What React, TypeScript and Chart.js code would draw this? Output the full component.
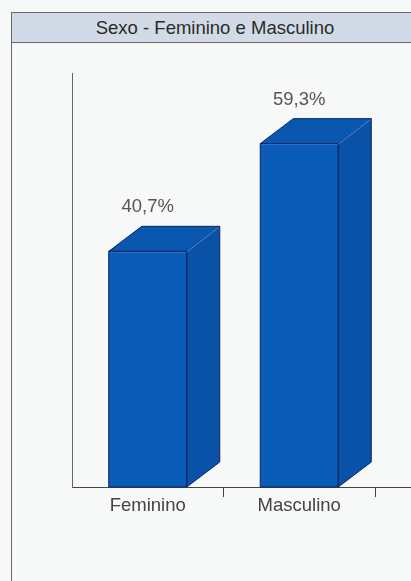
import React, { useEffect, useRef } from "react";
import { Chart, registerables } from "chart.js";

Chart.register(...registerables);

const title = "Sexo - Feminino e Masculino";
const categories = ["Feminino", "Masculino"];
const values = [40.7, 59.3];
const valueLabels = ["40,7%", "59,3%"];
const yMax = 71.5;

const FONT = "'Liberation Sans', Arial, sans-serif";

const threeD = {
  id: "threeD",
  afterDatasetsDraw(chart: any) {
    const ctx = chart.ctx;
    const meta = chart.getDatasetMeta(0);
    const dx = 33;
    const dy = 25;
    meta.data.forEach((bar: any, i: number) => {
      const { x, y, base, width } = bar.getProps(["x", "y", "base", "width"], true);
      const l = x - width / 2;
      const r = x + width / 2;
      ctx.save();
      ctx.lineJoin = "round";
      ctx.strokeStyle = "#0a2466";
      ctx.lineWidth = 1;
      // side
      ctx.beginPath();
      ctx.moveTo(r, y);
      ctx.lineTo(r + dx, y - dy);
      ctx.lineTo(r + dx, base - dy);
      ctx.lineTo(r, base);
      ctx.closePath();
      ctx.fillStyle = "#0a52a8";
      ctx.fill();
      ctx.stroke();
      // top
      ctx.beginPath();
      ctx.moveTo(l, y);
      ctx.lineTo(l + dx, y - dy);
      ctx.lineTo(r + dx, y - dy);
      ctx.lineTo(r, y);
      ctx.closePath();
      ctx.fillStyle = "#0a57b0";
      ctx.fill();
      ctx.stroke();
      // highlight edges
      ctx.strokeStyle = "#5b8fe0";
      ctx.beginPath();
      ctx.moveTo(l + 1, y + 0.5);
      ctx.lineTo(r, y + 0.5);
      ctx.lineTo(r + dx - 1, y - dy + 1);
      ctx.stroke();
      // front outline
      ctx.strokeStyle = "#0a2466";
      ctx.strokeRect(l, y, width, base - y);
      // value label
      ctx.fillStyle = "#555555";
      ctx.font = `18.5px ${FONT}`;
      ctx.textAlign = "center";
      ctx.textBaseline = "middle";
      ctx.fillText(valueLabels[i], x, y - 44);
      ctx.restore();
    });
    // extend x axis line to the right edge
    const area = chart.chartArea;
    ctx.save();
    ctx.strokeStyle = "#444444";
    ctx.lineWidth = 1;
    ctx.beginPath();
    ctx.moveTo(area.right, Math.round(area.bottom) + 0.5);
    ctx.lineTo(chart.width, Math.round(area.bottom) + 0.5);
    ctx.stroke();
    ctx.restore();
  },
};

export default function App() {
  const ref = useRef<HTMLCanvasElement>(null);
  useEffect(() => {
    if (!ref.current) return;
    const chart = new Chart(ref.current, {
      type: "bar",
      data: {
        labels: categories,
        datasets: [
          {
            data: values,
            backgroundColor: "#0b5cb8",
            borderWidth: 0,
            barPercentage: 0.515,
            categoryPercentage: 1,
          },
        ],
      },
      options: {
        responsive: false,
        animation: false,
        layout: { padding: { left: 72, top: 73, right: 36, bottom: 0 } },
        plugins: { legend: { display: false }, tooltip: { enabled: false } },
        scales: {
          x: {
            afterFit: (s: any) => {
              s.height = 94;
            },
            grid: {
              offset: true,
              drawOnChartArea: false,
              tickLength: 10,
              color: (c: any) => (c.index === 0 ? "rgba(0,0,0,0)" : "#444444"),
            },
            border: { color: "#444444" },
            ticks: {
              padding: -2,
              color: "#444444",
              font: { family: FONT, size: 18.5 },
            },
          },
          y: {
            min: 0,
            max: yMax,
            afterFit: (s: any) => {
              s.width = 0;
            },
            grid: { display: false },
            border: { color: "#666666" },
            ticks: { display: false },
          },
        },
      },
      plugins: [threeD],
    });
    return () => chart.destroy();
  }, []);

  return (
    <div
      style={{
        position: "absolute",
        left: 0,
        top: 0,
        width: 411,
        height: 581,
        background: "#f7f8f8",
        overflow: "hidden",
      }}
    >
      <div
        style={{
          position: "absolute",
          left: 11,
          top: 12,
          width: 408,
          height: 620,
          border: "1px solid #6a6a6a",
          boxSizing: "border-box",
        }}
      >
        <div
          style={{
            height: 30,
            background: "#d2dae7",
            borderBottom: "1px solid #6a6a6a",
            boxSizing: "border-box",
            textAlign: "center",
            fontFamily: FONT,
            fontSize: 18.5,
            lineHeight: "29px",
            color: "#2a2a2a",
            whiteSpace: "nowrap",
          }}
        >
          {title}
        </div>
      </div>
      <canvas
        ref={ref}
        width={411}
        height={581}
        style={{ position: "absolute", left: 0, top: 0, width: 411, height: 581 }}
      />
    </div>
  );
}
